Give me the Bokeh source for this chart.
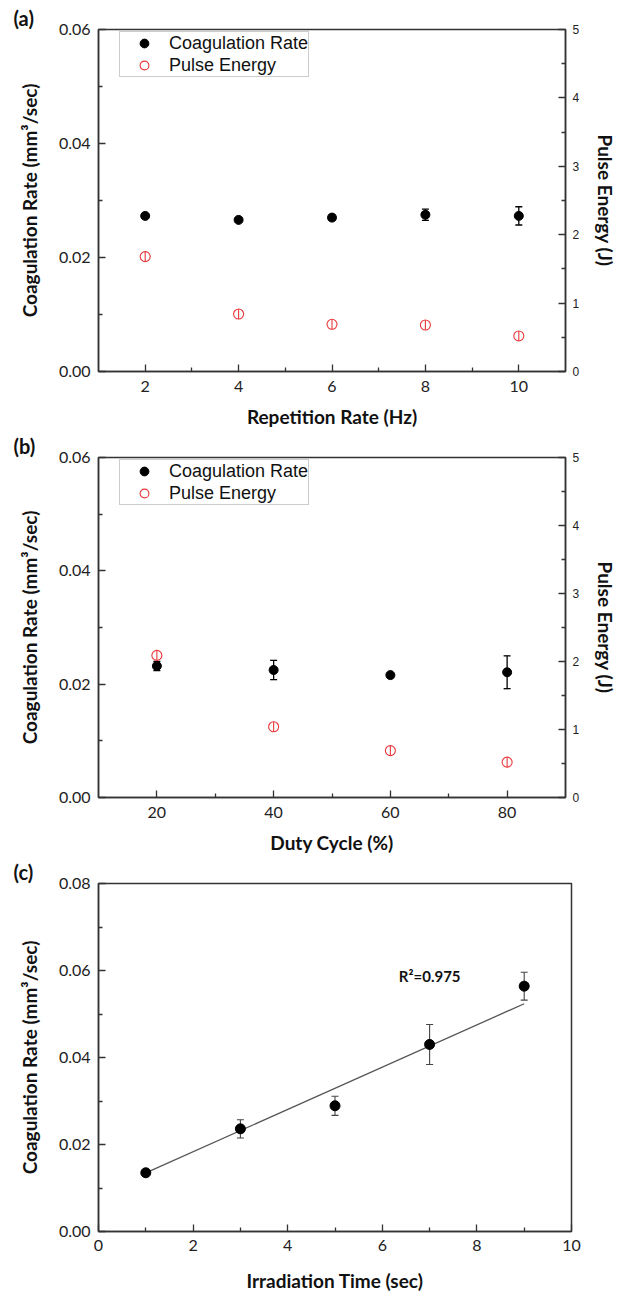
import numpy as np
from bokeh.plotting import figure
from bokeh.models import (Range1d, LinearAxis, FixedTicker, PrintfTickFormatter,
                          Whisker, ColumnDataSource, Legend, LegendItem, Label, TeeHead)
from bokeh.layouts import column
from bokeh.embed import file_html
from bokeh.resources import INLINE

# ---------------- data ----------------
# (a) repetition rate
rep_rate = [2, 4, 6, 8, 10]
rep_coag = [0.0273, 0.0266, 0.0270, 0.0275, 0.0273]
rep_coag_err = [0.0002, 0.0004, 0.0005, 0.0010, 0.0016]
rep_energy = [1.68, 0.84, 0.69, 0.68, 0.52]

# (b) duty cycle
duty = [20, 40, 60, 80]
duty_coag = [0.0232, 0.0225, 0.0216, 0.0221]
duty_coag_err = [0.0008, 0.0017, 0.0004, 0.0029]
duty_energy = [2.09, 1.04, 0.69, 0.52]

# (c) irradiation time
irr_time = [1, 3, 5, 7, 9]
irr_coag = [0.0135, 0.0236, 0.0289, 0.0430, 0.0564]
irr_coag_err = [0.0003, 0.0021, 0.0022, 0.0046, 0.0032]
fit_slope = 0.00486
fit_intercept = 0.00862
r2_text = "R\u00b2=0.975"

y_label = "Coagulation Rate (mm\u00b3/sec)"
RED = "#e8383a"
AX = "#333333"
LABEL_FONT = "Lato"
TICK_FONT = "Lato"


def style_axis(ax, size="16px", font=TICK_FONT, standoff=8):
    ax.axis_line_color = AX
    ax.axis_line_width = 1.5
    ax.major_tick_in = 7
    ax.major_tick_out = 0
    ax.minor_tick_in = 4
    ax.minor_tick_out = 0
    ax.major_tick_line_color = AX
    ax.minor_tick_line_color = AX
    ax.major_tick_line_width = 1.3
    ax.minor_tick_line_width = 1.3
    ax.major_label_text_font = font
    ax.major_label_text_font_size = size
    ax.major_label_text_color = "#222222"
    ax.major_label_standoff = standoff
    ax.axis_label_text_font = LABEL_FONT
    ax.axis_label_text_font_style = "bold"
    ax.axis_label_text_font_size = "19px"
    ax.axis_label_text_color = "#111111"


def base_fig(tag, tag_offset, frame, borders, xr, yr):
    fw, fh = frame
    l, r, t, b = borders
    p = figure(frame_width=fw, frame_height=fh, x_range=Range1d(*xr), y_range=Range1d(*yr),
               title=tag, output_backend="svg", toolbar_location=None,
               min_border_left=l, min_border_right=r, min_border_top=t, min_border_bottom=b)
    p.xgrid.visible = False
    p.ygrid.visible = False
    p.outline_line_color = AX
    p.outline_line_width = 1.5
    p.background_fill_color = "white"
    p.border_fill_color = "white"
    p.title.text_font = LABEL_FONT
    p.title.text_font_style = "bold"
    p.title.text_font_size = "20px"
    p.title.text_color = "#111111"
    p.title.align = "left"
    p.title.offset = tag_offset
    p.title.standoff = 0
    return p


def dual_panel(tag, tag_offset, frame, borders, xr, xticks, xminor, xlabel,
               xs, coag, err, energy):
    p = base_fig(tag, tag_offset, frame, borders, xr, (0, 0.06))
    p.extra_y_ranges = {"pe": Range1d(0, 5)}
    p.xaxis.ticker = FixedTicker(ticks=xticks, minor_ticks=xminor)
    p.yaxis.ticker = FixedTicker(ticks=[0, 0.02, 0.04, 0.06], minor_ticks=[0.01, 0.03, 0.05])
    p.yaxis.formatter = PrintfTickFormatter(format="%.2f")
    p.xaxis.axis_label = xlabel
    p.yaxis.axis_label = y_label
    style_axis(p.xaxis[0], standoff=9)
    style_axis(p.yaxis[0], standoff=8)
    p.xaxis.axis_label_standoff = 10
    p.yaxis.axis_label_standoff = 15

    rax = LinearAxis(y_range_name="pe", axis_label="Pulse Energy (J)",
                     ticker=FixedTicker(ticks=[0, 1, 2, 3, 4, 5],
                                        minor_ticks=[0.5, 1.5, 2.5, 3.5, 4.5]))
    style_axis(rax, size="12px", font="Liberation Sans", standoff=7)
    rax.axis_label_standoff = 12
    p.add_layout(rax, "right")

    src = ColumnDataSource(dict(x=xs, y=coag,
                                upper=[c + e for c, e in zip(coag, err)],
                                lower=[c - e for c, e in zip(coag, err)]))
    p.add_layout(Whisker(source=src, base="x", upper="upper", lower="lower",
                         line_color="black", line_width=1.3,
                         upper_head=TeeHead(size=7, line_color="black", line_width=1.3),
                         lower_head=TeeHead(size=7, line_color="black", line_width=1.3)))
    r_coag = p.scatter("x", "y", source=src, size=9, color="black")

    esrc = ColumnDataSource(dict(x=xs, y=energy))
    r_pe = p.scatter("x", "y", source=esrc, y_range_name="pe", marker="circle", size=10,
                     fill_color=None, line_color=RED, line_width=1.1)
    p.scatter("x", "y", source=esrc, y_range_name="pe", marker="dash", size=10,
              angle=np.pi / 2, line_color=RED, line_width=1.1)

    leg = Legend(items=[LegendItem(label="Coagulation Rate", renderers=[r_coag]),
                        LegendItem(label="Pulse Energy", renderers=[r_pe])],
                 location=(21, frame[1] - 4 - 44))
    leg.label_text_font = "Liberation Sans"
    leg.label_text_font_size = "18px"
    leg.label_text_color = "#111111"
    leg.label_height = 22
    leg.glyph_height = 22
    leg.glyph_width = 48
    leg.spacing = 0
    leg.padding = 0
    leg.margin = 0
    leg.label_standoff = 1
    leg.border_line_color = "#999999"
    leg.border_line_width = 1
    leg.background_fill_color = "white"
    leg.background_fill_alpha = 1
    p.add_layout(leg)
    return p


pa = dual_panel("(a)", -85, (467, 342), (98, 55, 29, 59), (1, 11), [2, 4, 6, 8, 10],
                [3, 5, 7, 9], "Repetition Rate (Hz)", rep_rate, rep_coag, rep_coag_err,
                rep_energy)

pb = dual_panel("(b)", -85, (467, 340), (98, 55, 27, 59), (10, 90), [20, 40, 60, 80],
                [30, 50, 70], "Duty Cycle (%)", duty, duty_coag, duty_coag_err, duty_energy)

# ---------------- panel (c) ----------------
pc = base_fig("(c)", -85, (473, 348), (98, 49, 27, 66), (0, 10), (0, 0.08))
pc.xaxis.ticker = FixedTicker(ticks=[0, 2, 4, 6, 8, 10], minor_ticks=[1, 3, 5, 7, 9])
pc.yaxis.ticker = FixedTicker(ticks=[0, 0.02, 0.04, 0.06, 0.08],
                              minor_ticks=[0.01, 0.03, 0.05, 0.07])
pc.yaxis.formatter = PrintfTickFormatter(format="%.2f")
pc.xaxis.axis_label = "Irradiation Time (sec)"
pc.yaxis.axis_label = y_label
style_axis(pc.xaxis[0], standoff=8)
style_axis(pc.yaxis[0], standoff=8)
pc.xaxis.axis_label_standoff = 15
pc.yaxis.axis_label_standoff = 15

fit_x = [irr_time[0], irr_time[-1]]
fit_y = [fit_intercept + fit_slope * t for t in fit_x]
pc.line(fit_x, fit_y, line_color="#555555", line_width=1.3)

csrc = ColumnDataSource(dict(x=irr_time, y=irr_coag,
                             upper=[c + e for c, e in zip(irr_coag, irr_coag_err)],
                             lower=[c - e for c, e in zip(irr_coag, irr_coag_err)]))
pc.add_layout(Whisker(source=csrc, base="x", upper="upper", lower="lower",
                      line_color="#444444", line_width=1.1,
                      upper_head=TeeHead(size=7, line_color="#444444", line_width=1.1),
                      lower_head=TeeHead(size=7, line_color="#444444", line_width=1.1)))
pc.scatter("x", "y", source=csrc, size=10, color="black")

pc.add_layout(Label(x=6.35, y=0.0588, text=r2_text, text_font=LABEL_FONT,
                    text_font_style="bold", text_font_size="15px", text_color="#111111",
                    text_baseline="middle", text_align="left"))

layout = column(pa, pb, pc, spacing=0)
open("out.html", "w").write(file_html(layout, INLINE))
